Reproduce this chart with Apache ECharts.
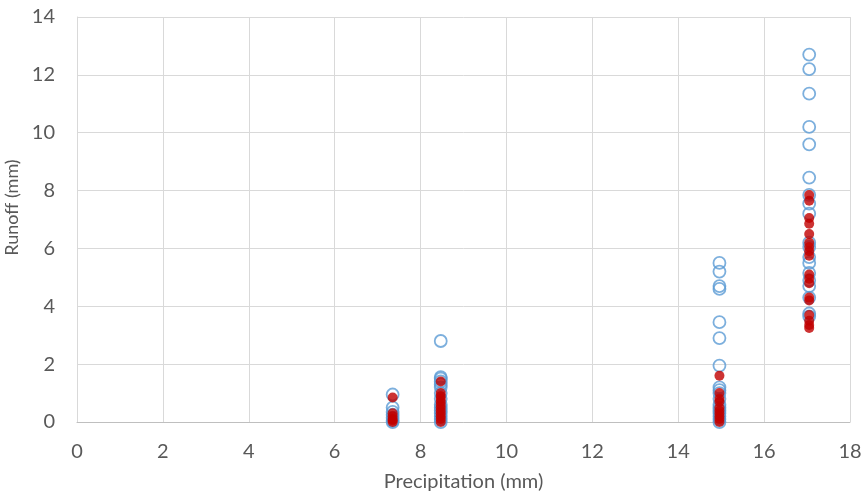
<!DOCTYPE html>
<html>
<head>
<meta charset="utf-8">
<script src="https://cdn.jsdelivr.net/npm/echarts@6/dist/echarts.min.js"></script>
<style>
  html, body { margin: 0; padding: 0; background: #ffffff; }
  #chart { width: 866px; height: 494px; }
</style>
</head>
<body>
<div id="chart"></div>
<script>
// Rainfall events (mm) and the runoff depths measured / simulated for each event
const precipitation = [7.35, 8.47, 14.96, 17.05];

const observedRunoff = [
  [0.95, 0.5, 0.35, 0.25, 0.15, 0.05, 0.0],
  [2.8, 1.55, 1.5, 1.4, 1.3, 1.2, 1.0, 0.8, 0.6, 0.5, 0.4, 0.3, 0.2, 0.1, 0.0],
  [5.5, 5.2, 4.7, 4.6, 3.45, 2.9, 1.95, 1.2, 1.1, 1.0, 0.8, 0.6, 0.5, 0.4, 0.3, 0.2, 0.1, 0.0],
  [12.7, 12.2, 11.35, 10.2, 9.6, 8.45, 7.85, 7.55, 7.2, 6.2, 6.05, 5.7, 5.5, 5.15, 4.9, 4.7, 4.3, 3.75, 3.65]
];

const simulatedRunoff = [
  [0.85, 0.3, 0.2, 0.1, 0.05, 0.0],
  [1.4, 1.0, 0.9, 0.8, 0.7, 0.6, 0.5, 0.4, 0.3, 0.2, 0.1, 0.0],
  [1.6, 1.0, 0.8, 0.7, 0.5, 0.4, 0.3, 0.2, 0.1, 0.0],
  [7.85, 7.65, 7.05, 6.85, 6.5, 6.2, 6.05, 5.9, 5.75, 5.1, 4.95, 4.8, 4.3, 4.2, 3.7, 3.5, 3.35, 3.25]
];

const xTicks = { min: 0, max: 18, interval: 2 };
const yTicks = { min: 0, max: 14, interval: 2 };

function toPairs(groups) {
  const out = [];
  groups.forEach((vals, i) => vals.forEach(v => out.push([precipitation[i], v])));
  return out;
}

const font = 'Lato, "Open Sans", sans-serif';
const grey = '#595959';

const chart = echarts.init(document.getElementById('chart'), null, { renderer: 'canvas' });
chart.setOption({
  animation: false,
  backgroundColor: '#ffffff',
  grid: { left: 77, right: 16, top: 17, bottom: 72, containLabel: false, outerBoundsMode: 'none' },
  xAxis: {
    type: 'value',
    min: xTicks.min, max: xTicks.max, interval: xTicks.interval,
    name: 'Precipitation (mm)',
    nameLocation: 'middle',
    nameGap: 50,
    nameTextStyle: { color: grey, fontFamily: font, fontSize: 20 },
    axisLine: { show: true, lineStyle: { color: '#BFBFBF', width: 1 } },
    axisTick: { show: false },
    axisLabel: { color: grey, fontFamily: font, fontSize: 20, margin: 20 },
    splitLine: { show: true, lineStyle: { color: '#D9D9D9', width: 1 } }
  },
  yAxis: {
    type: 'value',
    min: yTicks.min, max: yTicks.max, interval: yTicks.interval,
    name: 'Runoff (mm)',
    nameLocation: 'middle',
    nameGap: 48,
    nameTextStyle: { color: grey, fontFamily: font, fontSize: 18, padding: [0, 0, 0, 24] },
    axisLine: { show: true, lineStyle: { color: '#D9D9D9', width: 1 } },
    axisTick: { show: false },
    axisLabel: { color: grey, fontFamily: font, fontSize: 20, margin: 22 },
    splitLine: { show: true, lineStyle: { color: '#D9D9D9', width: 1 } }
  },
  series: [
    {
      name: 'Observed',
      type: 'scatter',
      data: toPairs(observedRunoff),
      symbol: 'circle',
      symbolSize: 12,
      itemStyle: { color: 'rgba(255,255,255,0)', borderColor: '#5B9BD5', borderWidth: 1.8 },
      z: 2
    },
    {
      name: 'Simulated',
      type: 'scatter',
      data: toPairs(simulatedRunoff),
      symbol: 'circle',
      symbolSize: 10,
      itemStyle: { color: '#C00000' },
      z: 3
    }
  ]
});
</script>
</body>
</html>
